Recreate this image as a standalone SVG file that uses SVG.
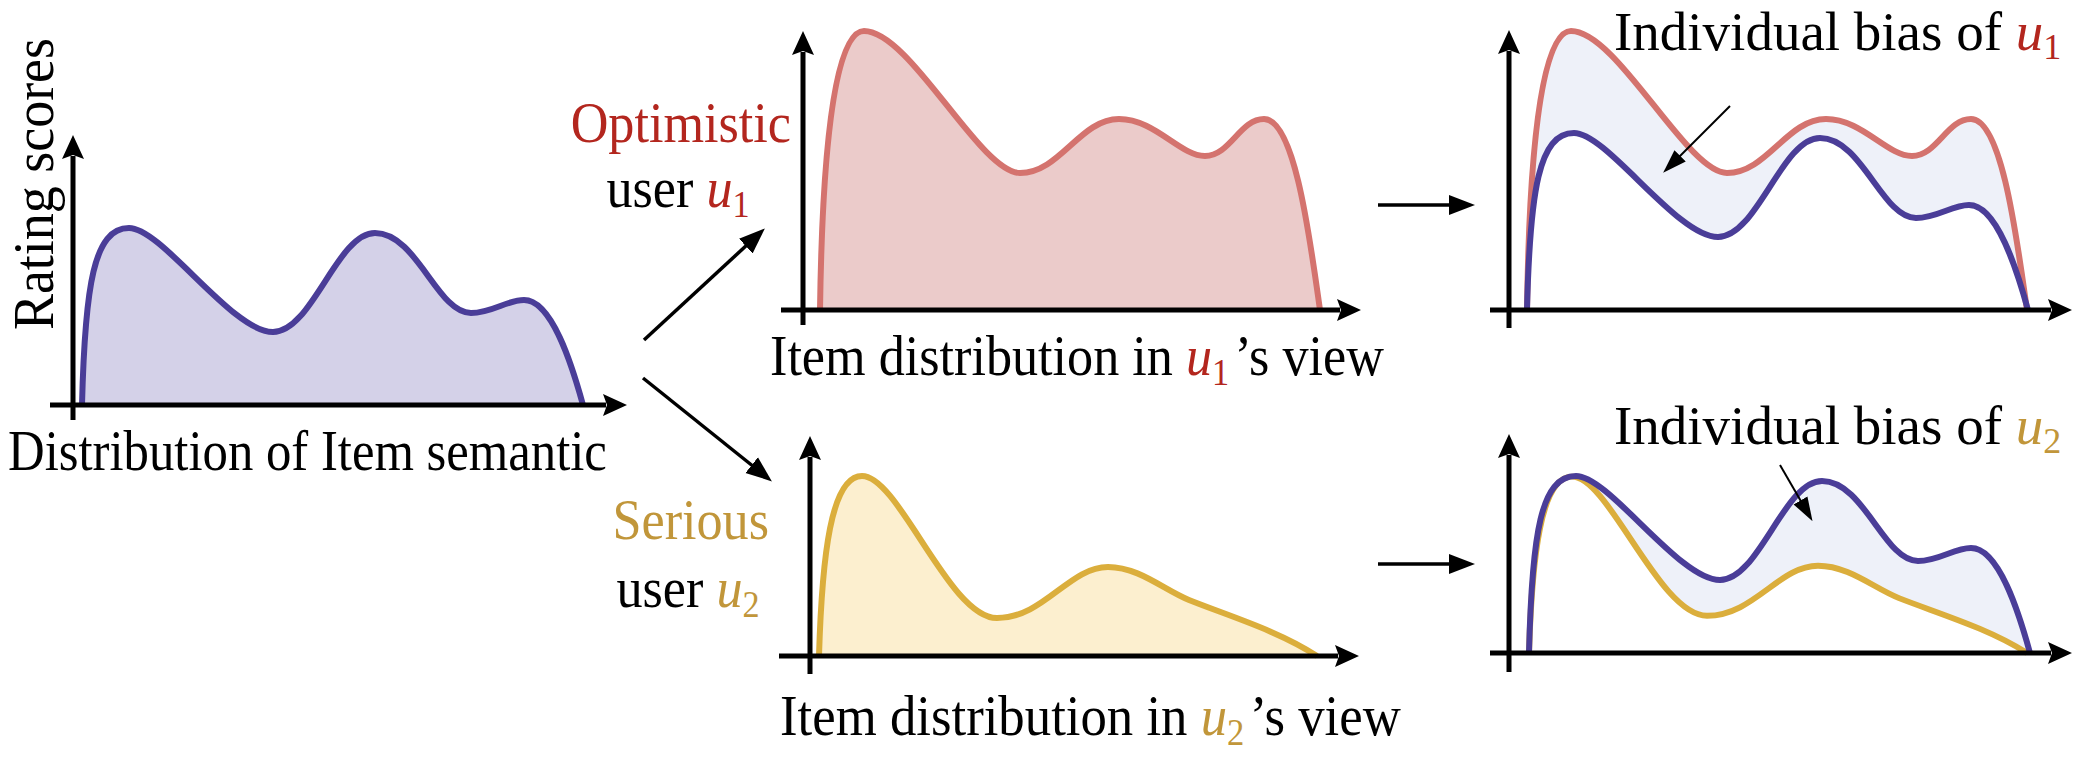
<svg xmlns="http://www.w3.org/2000/svg" xmlns:xlink="http://www.w3.org/1999/xlink" width="2078" height="760" viewBox="0 0 2078 760" font-family="'Liberation Serif', 'Times New Roman', Times, 'DejaVu Serif', serif">
<style>
text{font-family:'Liberation Serif','Times New Roman',Times,'DejaVu Serif',serif;font-size:58px;fill:#000}
.red{fill:#b3261e}
.gold{fill:#c1963a}
.it{font-style:italic}
.sub{font-size:38px}
.bias{font-size:55px}
.bias .sub{font-size:36px}
.axis{stroke:#000;stroke-width:5;fill:none}
.conn{stroke:#000;stroke-width:3.5;fill:none}
.thin{stroke:#000;stroke-width:2;fill:none}
.bl{stroke:#4a3d98;stroke-width:6;fill:none;stroke-linejoin:round}
.rd{stroke:#d4736e;stroke-width:6;fill:none;stroke-linejoin:round}
.yl{stroke:#dbae3c;stroke-width:6;fill:none;stroke-linejoin:round}
</style>
<defs>
<marker id="axh" markerUnits="userSpaceOnUse" markerWidth="24" markerHeight="24" viewBox="0 0 24 24" refX="3" refY="12" orient="auto">
<path d="M0,1 L24,12 L0,23 L4,12 z" fill="#000"/>
</marker>
<marker id="ah" markerUnits="userSpaceOnUse" markerWidth="26" markerHeight="22" viewBox="0 0 26 22" refX="3" refY="11" orient="auto">
<path d="M0,1 L26,11 L0,21 z" fill="#000"/>
</marker>
<marker id="sh" markerUnits="userSpaceOnUse" markerWidth="24" markerHeight="18" viewBox="0 0 24 18" refX="3" refY="9" orient="auto">
<path d="M0,1 L24,9 L0,17 z" fill="#000"/>
</marker>
<path id="blueC" d="M0,0 C3,-120 12,-177 47,-177 C80,-177 150,-73 191,-73 C230,-73 255,-172 293,-172 C335,-172 355,-92 389,-92 C410,-92 425,-105 442,-105 C470,-105 490,-40 501,0"/>
<path id="redC" d="M0,0 C2,-140 12,-279 44,-279 C90,-279 160,-137 200,-137 C240,-137 260,-191 299,-191 C335,-191 360,-154 385,-154 C410,-154 420,-191 444,-191 C475,-191 490,-70 500,0"/>
<path id="yelC" d="M0,0 C3,-100 12,-180 43,-180 C80,-180 130,-38 178,-38 C225,-38 250,-89 289,-89 C320,-89 345,-66 370,-56 C410,-40 460,-25 498,0"/>
</defs>

<g id="chart-semantic">
<use xlink:href="#blueC" transform="translate(82,405)" fill="#d4d1e8" stroke="none"/>
<use xlink:href="#blueC" transform="translate(82,405)" class="bl"/>
<line class="axis" x1="73" y1="420" x2="73" y2="156" marker-end="url(#axh)"/>
<line class="axis" x1="50" y1="405" x2="606" y2="405" marker-end="url(#axh)"/>
<text transform="translate(53,184) rotate(-90) scale(0.93,1)" text-anchor="middle">Rating scores</text>
<text transform="translate(8,470) scale(0.875,1)">Distribution of Item semantic</text>
</g>

<g id="chart-u1">
<use xlink:href="#redC" transform="translate(820,310)" fill="#ebcbca" stroke="none"/>
<use xlink:href="#redC" transform="translate(820,310)" class="rd"/>
<line class="axis" x1="803" y1="325" x2="803" y2="52" marker-end="url(#axh)"/>
<line class="axis" x1="781" y1="310" x2="1340" y2="310" marker-end="url(#axh)"/>
<text transform="translate(770,375) scale(0.9,1)">Item distribution in <tspan class="red it">u</tspan><tspan class="red sub" dy="10">1</tspan><tspan dx="6" dy="-10">’s view</tspan></text>
</g>

<g id="label-u1">
<text transform="translate(791,142) scale(0.9,1)" text-anchor="end" class="red">Optimistic</text>
<text transform="translate(678,207) scale(0.9,1)" text-anchor="middle">user <tspan class="red it">u</tspan><tspan class="red sub" dy="10">1</tspan></text>
</g>

<g id="chart-u2">
<use xlink:href="#yelC" transform="translate(819,656)" fill="#fcefcf" stroke="none"/>
<use xlink:href="#yelC" transform="translate(819,656)" class="yl"/>
<line class="axis" x1="810" y1="674" x2="810" y2="457" marker-end="url(#axh)"/>
<line class="axis" x1="779" y1="656" x2="1338" y2="656" marker-end="url(#axh)"/>
<text transform="translate(780,735) scale(0.91,1)">Item distribution in <tspan class="gold it">u</tspan><tspan class="gold sub" dy="10">2</tspan><tspan dx="6" dy="-10">’s view</tspan></text>
</g>

<g id="label-u2">
<text transform="translate(769,539) scale(0.9,1)" text-anchor="end" class="gold">Serious</text>
<text transform="translate(688,607) scale(0.9,1)" text-anchor="middle">user <tspan class="gold it">u</tspan><tspan class="gold sub" dy="10">2</tspan></text>
</g>

<g id="bias-u1">
<use xlink:href="#redC" transform="translate(1527,310)" fill="#eef1f9" stroke="none"/>
<use xlink:href="#blueC" transform="translate(1527,310)" fill="#ffffff" stroke="none"/>
<use xlink:href="#redC" transform="translate(1527,310)" class="rd"/>
<use xlink:href="#blueC" transform="translate(1527,310)" class="bl"/>
<line class="axis" x1="1509" y1="328" x2="1509" y2="51" marker-end="url(#axh)"/>
<line class="axis" x1="1490" y1="310" x2="2051" y2="310" marker-end="url(#axh)"/>
<text class="bias" transform="translate(1614,50)">Individual bias of <tspan class="red it">u</tspan><tspan class="red sub" dy="9">1</tspan></text>
</g>

<g id="bias-u2">
<use xlink:href="#blueC" transform="translate(1529,653)" fill="#eef1f9" stroke="none"/>
<use xlink:href="#yelC" transform="translate(1529,653) scale(1,0.98)" fill="#ffffff" stroke="none"/>
<use xlink:href="#yelC" transform="translate(1529,653) scale(1,0.98)" class="yl"/>
<use xlink:href="#blueC" transform="translate(1529,653)" class="bl"/>
<line class="axis" x1="1509" y1="672" x2="1509" y2="455" marker-end="url(#axh)"/>
<line class="axis" x1="1490" y1="653" x2="2051" y2="653" marker-end="url(#axh)"/>
<text class="bias" transform="translate(1614,444)">Individual bias of <tspan class="gold it">u</tspan><tspan class="gold sub" dy="9">2</tspan></text>
</g>

<g id="connectors">
<line class="conn" x1="644" y1="340" x2="748" y2="244" marker-end="url(#ah)"/>
<line class="conn" x1="643" y1="378" x2="754" y2="467" marker-end="url(#ah)"/>
<line class="conn" x1="1378" y1="205" x2="1452" y2="205" marker-end="url(#ah)"/>
<line class="conn" x1="1378" y1="564" x2="1452" y2="564" marker-end="url(#ah)"/>
<line class="thin" x1="1730" y1="106" x2="1678" y2="158" marker-end="url(#sh)"/>
<line class="thin" x1="1780" y1="465" x2="1802" y2="503" marker-end="url(#sh)"/>
</g>
</svg>
